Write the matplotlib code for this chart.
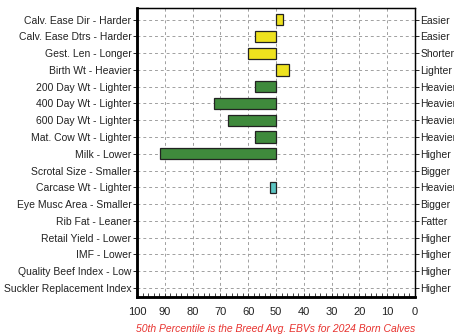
import numpy as np
import matplotlib
matplotlib.use("Agg")
import matplotlib.pyplot as plt
from matplotlib.ticker import MultipleLocator

traits = ["Calv. Ease Dir - Harder", "Calv. Ease Dtrs - Harder", "Gest. Len - Longer",
          "Birth Wt - Heavier", "200 Day Wt - Lighter", "400 Day Wt - Lighter",
          "600 Day Wt - Lighter", "Mat. Cow Wt - Lighter", "Milk - Lower",
          "Scrotal Size - Smaller", "Carcase Wt - Lighter", "Eye Musc Area - Smaller",
          "Rib Fat - Leaner", "Retail Yield - Lower", "IMF - Lower",
          "Quality Beef Index - Low", "Suckler Replacement Index"]
right_labels = ["Easier", "Easier", "Shorter", "Lighter", "Heavier", "Heavier", "Heavier",
                "Heavier", "Higher", "Bigger", "Heavier", "Bigger", "Fatter", "Higher",
                "Higher", "Higher", "Higher"]
# percentile per trait (None = no bar)
percentile = [47.6, 57.4, 60.0, 45.3, 57.4, 72.2, 67.4, 57.4, 91.8,
              None, 52.2, None, None, None, None, None, None]
group = ["calving", "calving", "calving", "calving", "growth", "growth", "growth",
         "growth", "growth", None, "carcase", None, None, None, None, None, None]

colors = {"calving": "#eee21e", "growth": "#3f8a3c", "carcase": "#5cc4c2"}

plt.rcParams['font.family'] = ['Liberation Sans', 'DejaVu Sans']

fig = plt.figure(figsize=(4.54, 3.35), dpi=100)
ax = fig.add_axes([137/454, 1 - 297/335, (415-137)/454, (297-8)/335])

n = len(traits)
y = np.arange(n)
for i in range(n):
    p = percentile[i]
    if p is None:
        continue
    ax.barh(y[i], p - 50, left=50, height=0.68, color=colors[group[i]],
            edgecolor="#222222", linewidth=0.9, zorder=3)

ax.set_xlim(100, 0)
ax.set_ylim(n - 0.45, -0.7)
ax.set_yticks(y)
ax.set_yticklabels(traits, fontsize=7.5, color="#222222")
ax.xaxis.set_major_locator(MultipleLocator(10))
ax.xaxis.set_minor_locator(MultipleLocator(2))
ax.tick_params(axis='x', which='both', direction='in', length=3, width=0.6,
               labelsize=8, pad=7, colors="#222222")
ax.tick_params(axis='y', direction='out', length=3, width=0.6, pad=1)
ax.grid(True, which='major', linestyle=(0, (3, 3)), color="#a0a0a0", linewidth=0.7, zorder=0)

ax2 = ax.twinx()
ax2.set_ylim(ax.get_ylim())
ax2.set_yticks(y)
ax2.set_yticklabels(right_labels, fontsize=7.5, color="#222222")
ax2.tick_params(axis='y', direction='out', length=3, width=0.6, pad=1)

for a in (ax, ax2):
    a.spines['left'].set_linewidth(1.8)
    a.spines['bottom'].set_linewidth(1.8)
    a.spines['top'].set_linewidth(0.9)
    a.spines['right'].set_linewidth(0.9)

fig.text(276/454, 1 - 329/335, "50th Percentile is the Breed Avg. EBVs for 2024 Born Calves",
         ha='center', va='center', fontsize=7.5, style='italic', color="#e8332f")

fig.savefig("out.png", dpi=100)
